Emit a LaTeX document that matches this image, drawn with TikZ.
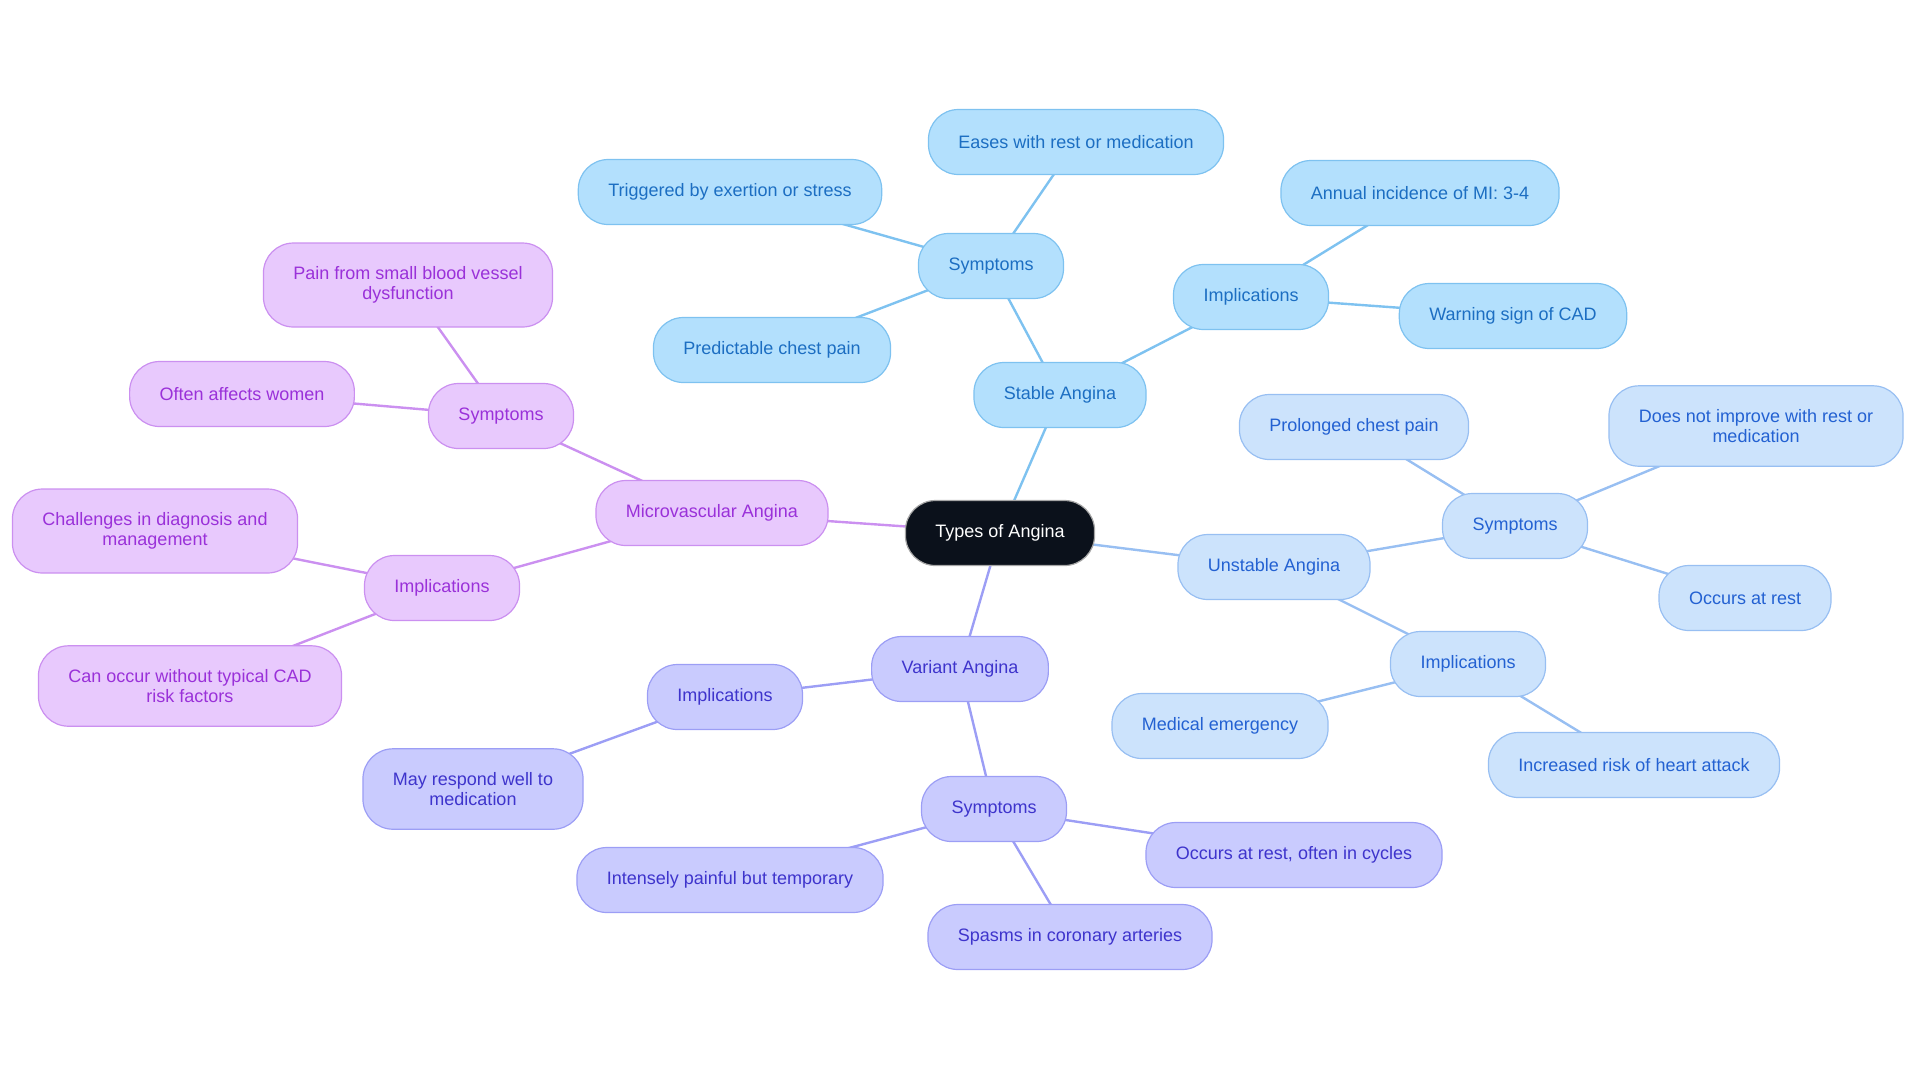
\documentclass[tikz,border=0pt]{standalone}
\usepackage{fontspec}
\setmainfont{Liberation Sans}
\usetikzlibrary{positioning,backgrounds}
\definecolor{rootfill}{HTML}{0B111B}
\definecolor{stfill}{HTML}{B3E0FD}\definecolor{stline}{HTML}{7EC2F0}\definecolor{sttext}{HTML}{1C6EC2}
\definecolor{unfill}{HTML}{CCE3FC}\definecolor{unline}{HTML}{98BFF2}\definecolor{untext}{HTML}{2361D2}
\definecolor{vafill}{HTML}{C9CBFE}\definecolor{valine}{HTML}{9C9EF5}\definecolor{vatext}{HTML}{3E34CC}
\definecolor{mifill}{HTML}{E8C9FD}\definecolor{miline}{HTML}{CB90F0}\definecolor{mitext}{HTML}{9A31D9}
\begin{document}
\begin{tikzpicture}[x=0.5pt,y=-0.5pt,every node/.style={font=\fontsize{9}{10}\selectfont},
 box/.style={draw,rounded corners=15pt,minimum height=32.5pt,inner xsep=15pt,inner ysep=11.8pt,align=center,line width=0.6pt},
 rootbox/.style={box,fill=rootfill,draw=gray!70,text=white},
 stbox/.style={box,fill=stfill,draw=stline,text=sttext},
 unbox/.style={box,fill=unfill,draw=unline,text=untext},
 vabox/.style={box,fill=vafill,draw=valine,text=vatext},
 mibox/.style={box,fill=mifill,draw=miline,text=mitext},
 link/.style={line width=1.2pt}]
\useasboundingbox (0,0) rectangle (1920,1083);
\node[rootbox] (root) at (1000,533) {Types of Angina};
% stable branch
\foreach \n/\x/\y/\t in {sa/1060/395/{Stable Angina},sas/991/266/Symptoms,
 sas1/1076/142/{Eases with rest or medication},sas2/730/192/{Triggered by exertion or stress},
 sas3/772/350/{Predictable chest pain},sai/1251/297/Implications,
 sai1/1420/193/{Annual incidence of MI: 3-4},sai2/1513/316/{Warning sign of CAD}}
 \node[stbox] (\n) at (\x,\y) {\t};
% unstable branch
\foreach \n/\x/\y/\t in {ua/1274/567/{Unstable Angina},uas/1515/526/Symptoms,
 uas1/1354/427/{Prolonged chest pain},uas2/1756/426/{Does not improve with rest or\\medication},
 uas3/1745/598/{Occurs at rest},uai/1468/664/Implications,
 uai1/1220/726/{Medical emergency},uai2/1634/765/{Increased risk of heart attack}}
 \node[unbox] (\n) at (\x,\y) {\t};
% variant branch
\foreach \n/\x/\y/\t in {va/960/669/{Variant Angina},vai/725/697/Implications,
 vai1/473/789/{May respond well to\\medication},vas/994/809/Symptoms,
 vas1/730/880/{Intensely painful but temporary},vas2/1294/855/{Occurs at rest, often in cycles},
 vas3/1070/937/{Spasms in coronary arteries}}
 \node[vabox] (\n) at (\x,\y) {\t};
% microvascular branch
\foreach \n/\x/\y/\t in {ma/712/513/{Microvascular Angina},mas/501/416/Symptoms,
 mas1/408/285/{Pain from small blood vessel\\dysfunction},mas2/242/394/{Often affects women},
 mai/442/588/Implications,mai1/155/531/{Challenges in diagnosis and\\management},
 mai2/190/686/{Can occur without typical CAD\\risk factors}}
 \node[mibox] (\n) at (\x,\y) {\t};
\begin{scope}[on background layer]
\foreach \a/\b in {root/sa,sa/sas,sas/sas1,sas/sas2,sas/sas3,sa/sai,sai/sai1,sai/sai2}
 \draw[link,stline] (\a.center)--(\b.center);
\foreach \a/\b in {root/ua,ua/uas,uas/uas1,uas/uas2,uas/uas3,ua/uai,uai/uai1,uai/uai2}
 \draw[link,unline] (\a.center)--(\b.center);
\foreach \a/\b in {root/va,va/vai,vai/vai1,va/vas,vas/vas1,vas/vas2,vas/vas3}
 \draw[link,valine] (\a.center)--(\b.center);
\foreach \a/\b in {root/ma,ma/mas,mas/mas1,mas/mas2,ma/mai,mai/mai1,mai/mai2}
 \draw[link,miline] (\a.center)--(\b.center);
\end{scope}
\end{tikzpicture}
\end{document}
